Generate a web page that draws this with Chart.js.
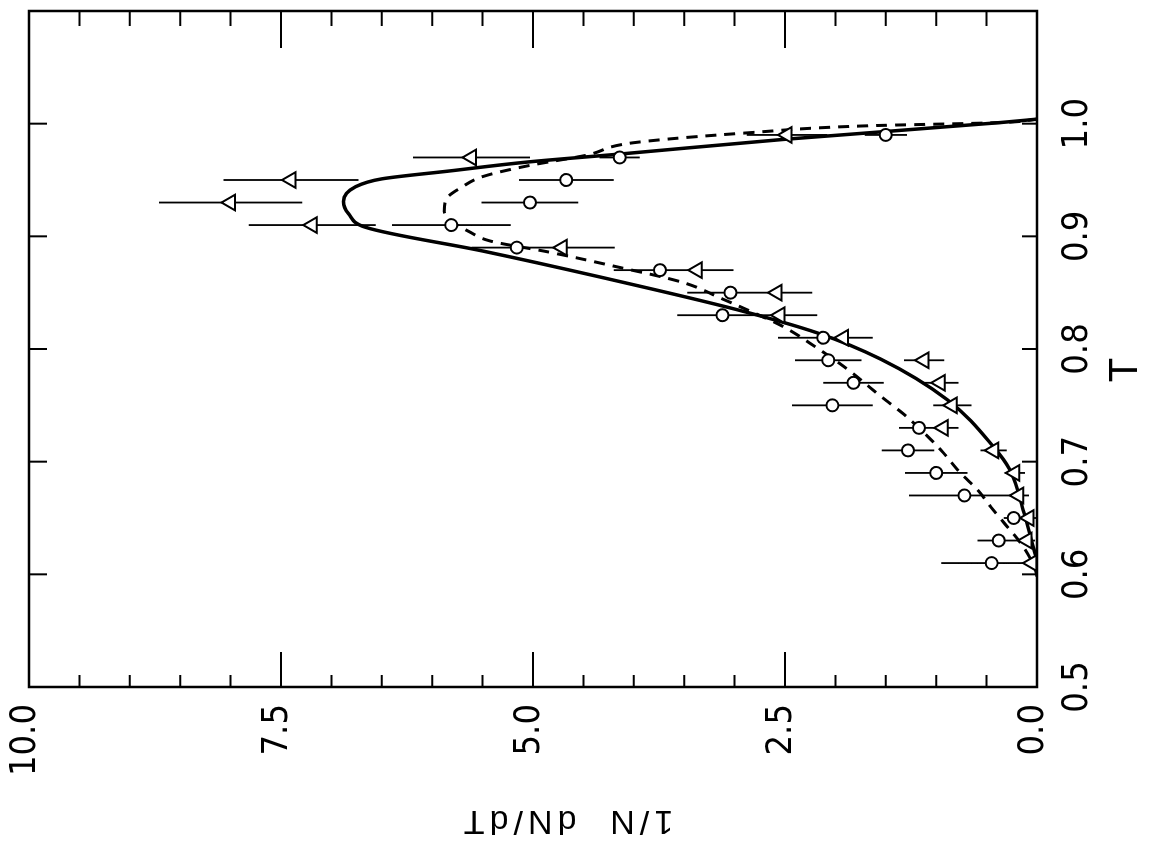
<!DOCTYPE html>
<html>
<head>
<meta charset="utf-8">
<title>1/N dN/dT vs T</title>
<script src="https://cdn.jsdelivr.net/npm/chart.js@4.4.1/dist/chart.umd.min.js"></script>
<style>
    html, body { margin: 0; padding: 0; background: #fff; overflow: hidden; }
    /* the figure is printed turned on its side, so the chart is drawn upright and rotated */
    #wrap {
        position: absolute; left: 0; top: 0;
        width: 850px; height: 1152px;
        transform-origin: 0 0;
        transform: translateY(850px) rotate(-90deg);
    }
</style>
</head>
<body>
<div id="wrap"><canvas id="chart" width="850" height="1152"></canvas></div>
<script>
// ==========================
// Data
// ==========================
const tBins = [0.61, 0.63, 0.65, 0.67, 0.69, 0.71, 0.73, 0.75, 0.77, 0.79,
               0.81, 0.83, 0.85, 0.87, 0.89, 0.91, 0.93, 0.95, 0.97, 0.99];

// open circles
const circleVals = [0.45, 0.38, 0.23, 0.72, 1.00, 1.28, 1.17, 2.03, 1.82, 2.07,
                    2.12, 3.12, 3.04, 3.74, 5.16, 5.81, 5.03, 4.67, 4.14, 1.50];
const circleErr  = [0.50, 0.21, 0.10, 0.55, 0.31, 0.26, 0.20, 0.40, 0.30, 0.33,
                    0.45, 0.45, 0.43, 0.46, 0.45, 0.59, 0.48, 0.47, 0.20, 0.21];

// open triangles
const triVals = [0.05, 0.10, 0.08, 0.18, 0.22, 0.43, 0.93, 0.84, 0.96, 1.12,
                 1.92, 2.55, 2.58, 3.37, 4.71, 7.19, 8.00, 7.40, 5.61, 2.48];
const triErr  = [0.05, 0.08, 0.08, 0.10, 0.10, 0.13, 0.15, 0.19, 0.18, 0.20,
                 0.29, 0.37, 0.35, 0.36, 0.52, 0.63, 0.71, 0.67, 0.58, 0.40];

// solid curve
const solidT    = [0.613, 0.622, 0.655, 0.693, 0.713, 0.755, 0.791, 0.814, 0.835, 0.864,
                   0.887, 0.908, 0.920, 0.931, 0.944, 0.951, 0.958, 0.966, 0.973, 0.986,
                   1.001, 1.004];
const solidVals = [0.00, 0.03, 0.13, 0.27, 0.43, 0.89, 1.55, 2.17, 2.98, 4.34,
                   5.50, 6.66, 6.83, 6.88, 6.76, 6.50, 5.83, 5.05, 4.14, 2.52,
                   0.36, 0.00];

// dashed curve
const dashT    = [0.598, 0.605, 0.625, 0.646, 0.660, 0.675, 0.690, 0.708, 0.722, 0.742,
                  0.758, 0.782, 0.802, 0.820, 0.835, 0.844, 0.859, 0.873, 0.886, 0.896,
                  0.904, 0.915, 0.922, 0.933, 0.944, 0.953, 0.963, 0.972, 0.983, 0.992,
                  0.998, 1.001, 1.004];
const dashVals = [0.00, 0.02, 0.14, 0.33, 0.46, 0.59, 0.76, 0.93, 1.08, 1.32,
                  1.55, 1.88, 2.20, 2.52, 2.88, 3.11, 3.51, 4.17, 4.84, 5.43,
                  5.63, 5.83, 5.88, 5.86, 5.70, 5.50, 5.03, 4.47, 4.01, 2.85,
                  1.72, 0.36, 0.00];

// tick labels
const tLabels = ['0.5', '0.6', '0.7', '0.8', '0.9', '1.0'];
const valLabels = ['0.0', '2.5', '5.0', '7.5', '10.0'];

const xTitle = 'T';
const yTitle = '1/N  dN/dT';

// ==========================
// Helpers
// ==========================
const pairs = (xs, ys) => xs.map((x, i) => ({ x: x, y: ys[i] }));
const tickFont = { family: '"Liberation Sans Narrow", "DejaVu Sans Condensed", "Liberation Sans", sans-serif', size: 36 };

// keep the plot box where the layout padding puts it
const fixScale = size => s => {
    if (s.isHorizontal()) s.height = size; else s.width = size;
    s.paddingTop = s.paddingBottom = s.paddingLeft = s.paddingRight = 0;
};

// frame, inward ticks, error bars and axis titles
const figurePlugin = {
    id: 'figure',
    beforeDatasetsDraw(chart) {
        const { ctx, scales: { x, y } } = chart;
        ctx.save();
        ctx.strokeStyle = '#000';
        ctx.lineWidth = 1.8;
        ctx.beginPath();
        chart.data.datasets.forEach(ds => {
            if (!ds.errors) return;
            ds.data.forEach((p, i) => {
                const e = ds.errors[i];
                const px = x.getPixelForValue(p.x);
                ctx.moveTo(px, y.getPixelForValue(Math.max(0, p.y - e)));
                ctx.lineTo(px, y.getPixelForValue(p.y + e));
            });
        });
        ctx.stroke();
        ctx.restore();
    },
    afterDraw(chart) {
        const { ctx, chartArea: a, scales: { x, y } } = chart;
        ctx.save();
        ctx.strokeStyle = '#000';
        ctx.lineWidth = 2.5;
        ctx.strokeRect(a.left, a.top, a.right - a.left, a.bottom - a.top);

        ctx.lineWidth = 2;
        ctx.beginPath();
        x.ticks.forEach(t => {
            const px = x.getPixelForValue(t.value);
            if (px < a.left + 2 || px > a.right - 2) return;
            ctx.moveTo(px, a.top);
            ctx.lineTo(px, a.top + 18);
            ctx.moveTo(px, a.bottom);
            ctx.lineTo(px, a.bottom - 15);
        });
        y.ticks.forEach((t, i) => {
            const py = y.getPixelForValue(t.value);
            if (py < a.top + 2 || py > a.bottom - 2) return;
            const major = i % 5 === 0;
            ctx.moveTo(a.left, py);
            ctx.lineTo(a.left + (major ? 35 : 12), py);
            ctx.moveTo(a.right, py);
            ctx.lineTo(a.right - (major ? 37 : 15), py);
        });
        ctx.stroke();

        // axis titles
        ctx.fillStyle = '#000';
        ctx.textAlign = 'center';
        ctx.textBaseline = 'middle';
        ctx.font = '40px "Liberation Sans", Arial, sans-serif';
        ctx.fillText(xTitle, 480, 1126);

        ctx.translate(30, 566);
        ctx.rotate(-Math.PI / 2);
        ctx.font = '34px "Liberation Sans", Arial, sans-serif';
        ctx.letterSpacing = '5px';
        ctx.fillText(yTitle, 0, 0);
        ctx.restore();
    }
};

// ==========================
// Chart
// ==========================
new Chart(document.getElementById('chart'), {
    type: 'scatter',
    data: {
        datasets: [
            {
                label: 'circles',
                data: pairs(tBins, circleVals),
                errors: circleErr,
                pointStyle: 'circle',
                pointRadius: 6,
                pointBorderWidth: 2,
                pointBorderColor: '#000',
                pointBackgroundColor: '#fff'
            },
            {
                label: 'triangles',
                data: pairs(tBins, triVals),
                errors: triErr,
                pointStyle: 'triangle',
                pointRadius: 9,
                pointBorderWidth: 2,
                pointBorderColor: '#000',
                pointBackgroundColor: '#fff'
            },
            {
                label: 'solid',
                data: pairs(solidT, solidVals),
                showLine: true,
                pointRadius: 0,
                borderColor: '#000',
                borderWidth: 3.5,
                cubicInterpolationMode: 'monotone'
            },
            {
                label: 'dashed',
                data: pairs(dashT, dashVals),
                showLine: true,
                pointRadius: 0,
                borderColor: '#000',
                borderWidth: 3,
                borderDash: [11, 8],
                cubicInterpolationMode: 'monotone'
            }
        ]
    },
    options: {
        responsive: false,
        animation: false,
        devicePixelRatio: 1,
        layout: { padding: { left: 0, right: 11, top: 29, bottom: 0 } },
        plugins: { legend: { display: false }, tooltip: { enabled: false } },
        scales: {
            x: {
                type: 'linear',
                min: 0.5,
                max: 1.1,
                afterFit: fixScale(115),
                grid: { display: false, drawTicks: false },
                border: { display: false },
                ticks: {
                    stepSize: 0.1,
                    autoSkip: false,
                    maxRotation: 0,
                    padding: 19,
                    color: '#000',
                    font: tickFont,
                    callback: (v, i) => tLabels[i] ?? ''
                }
            },
            y: {
                type: 'linear',
                min: 0,
                max: 10,
                afterFit: fixScale(163),
                grid: { display: false, drawTicks: false },
                border: { display: false },
                ticks: {
                    stepSize: 0.5,
                    autoSkip: false,
                    padding: 17,
                    labelOffset: -3,
                    color: '#000',
                    font: tickFont,
                    callback: (v, i) => (i % 5 === 0 ? valLabels[i / 5] : '')
                }
            }
        }
    },
    plugins: [figurePlugin]
});
</script>
</body>
</html>
